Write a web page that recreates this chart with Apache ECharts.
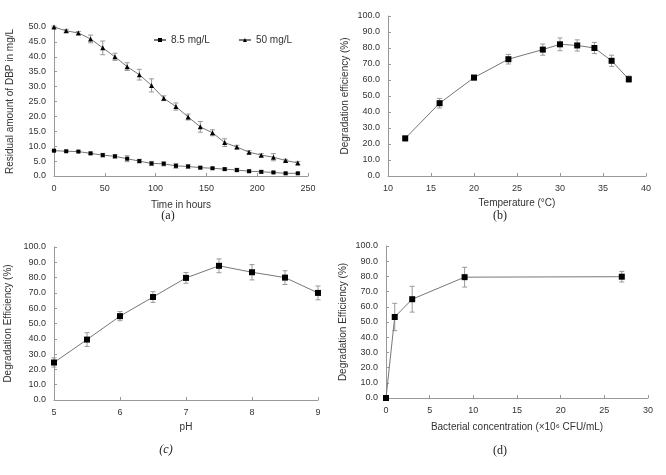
<!DOCTYPE html>
<html><head><meta charset="utf-8">
<script src="https://cdn.jsdelivr.net/npm/echarts@6/dist/echarts.min.js"></script>
<style>html,body{margin:0;padding:0;background:#fff}#c{width:666px;height:475px}</style>
</head><body><div id="c"></div>
<script>
// Panel (a): residual DBP over time
const timeHours = [0,12,24,36,48,60,72,84,96,108,120,132,144,156,168,180,192,204,216,228,240];
const dbp85 = [8.5,8.3,8.2,7.6,7.0,6.6,5.8,5.0,4.2,4.1,3.4,3.2,2.8,2.6,2.3,2.0,1.6,1.4,1.2,0.9,0.9];
const dbp85Err = [0.2,0.2,0.2,0.4,0.6,0.6,1.0,0.6,0.7,0.7,0.8,0.6,0.4,0.3,0.4,0.6,0.4,0.4,0.3,0.3,0.3];
const dbp50 = [50.0,48.7,48.0,46.0,43.0,40.0,36.7,34.0,30.4,26.1,23.3,19.8,16.5,14.5,11.2,9.7,8.0,7.0,6.3,5.2,4.4];
const dbp50Err = [0.3,0.5,0.5,1.3,2.3,1.2,1.3,1.8,2.2,0.8,1.2,1.0,1.8,1.0,1.3,0.6,0.5,0.5,1.2,0.4,0.5];
// Panel (b): temperature
const tempC = [12,16,20,24,28,30,32,34,36,38];
const tempEff = [23.5,45.5,61.5,73.0,79.0,82.3,81.6,80.0,72.0,60.5];
const tempErr = [1.5,3.0,1.5,3.0,3.5,4.0,3.5,3.5,3.5,2.0];
// Panel (c): pH
const phVals = [5,5.5,6,6.5,7,7.5,8,8.5,9];
const phEff = [24.5,39.5,54.8,67.3,79.8,87.7,83.5,80.0,70.0];
const phErr = [3.0,4.5,3.0,3.5,3.5,4.5,5.0,4.5,4.5];
// Panel (d): bacterial concentration
const bactConc = [0,1,3,9,27];
const bactEff = [0,53.3,65.0,79.5,79.8];
const bactErr = [0,9.0,8.5,6.5,3.5];

const FONT = 'Liberation Sans, Arial, sans-serif';
const AX = '#999';
const TXT = '#333';
const LINE = '#777';

function pairs(xs, ys){ return xs.map((x,i)=>[x, ys[i]]); }
function errData(xs, ys, es){ return xs.map((x,i)=>[x, ys[i]-es[i], ys[i]+es[i]]); }
function errRender(params, api){
  const x = api.value(0), lo = api.value(1), hi = api.value(2);
  if (hi - lo <= 0) return null;
  const p1 = api.coord([x, lo]), p2 = api.coord([x, hi]);
  const w = 2.5;
  const st = {stroke:'#999', lineWidth:1};
  return {type:'group', children:[
    {type:'line', shape:{x1:p1[0],y1:p1[1],x2:p2[0],y2:p2[1]}, style:st},
    {type:'line', shape:{x1:p1[0]-w,y1:p1[1],x2:p1[0]+w,y2:p1[1]}, style:st},
    {type:'line', shape:{x1:p2[0]-w,y1:p2[1],x2:p2[0]+w,y2:p2[1]}, style:st}
  ]};
}
function xAx(g, min, max, interval, name, gap){
  return {type:'value', gridIndex:g, min, max, interval, name, nameLocation:'middle', nameGap:gap,
    nameTextStyle:{fontFamily:FONT, fontSize:10, color:TXT},
    axisLine:{lineStyle:{color:AX}}, axisTick:{inside:true, length:3, lineStyle:{color:AX}},
    axisLabel:{fontFamily:FONT, fontSize:9, color:TXT, margin:8}, splitLine:{show:false}};
}
function yAx(g, min, max, interval, name, gap){
  return {type:'value', gridIndex:g, min, max, interval, name, nameLocation:'middle', nameGap:gap,
    nameTextStyle:{fontFamily:FONT, fontSize:10, color:TXT},
    axisLine:{show:true, lineStyle:{color:AX}}, axisTick:{show:true, inside:true, length:3, lineStyle:{color:AX}},
    axisLabel:{fontFamily:FONT, fontSize:9, color:TXT, margin:8, formatter:v=>v.toFixed(1)}, splitLine:{show:false}};
}
function lineS(name, g, data, symbol, size){
  return {name, type:'line', xAxisIndex:g, yAxisIndex:g, data, symbol, symbolSize:size,
    lineStyle:{color:LINE, width:1}, itemStyle:{color:'#000'}, z:3, animation:false};
}
function errS(g, data){
  return {type:'custom', xAxisIndex:g, yAxisIndex:g, data, renderItem:errRender, z:2, animation:false, silent:true};
}

const chart = echarts.init(document.getElementById('c'), null, {renderer:'canvas'});
chart.setOption({
  backgroundColor:'#fff',
  animation:false,
  grid:[
    {left:54, top:27, width:254, height:149},
    {left:388, top:16, width:258, height:160},
    {left:54, top:247, width:264, height:153},
    {left:386, top:246, width:262, height:152}
  ],
  legend:{data:['8.5 mg/L','50 mg/L'], left:148, top:30, itemWidth:12, itemHeight:5, itemGap:28,
    textStyle:{fontFamily:FONT, fontSize:10, color:TXT}},
  xAxis:[
    xAx(0, 0, 250, 50, 'Time in hours', 24),
    xAx(1, 10, 40, 5, 'Temperature (°C)', 22),
    xAx(2, 5, 9, 1, 'pH', 22),
    xAx(3, 0, 30, 5, 'Bacterial concentration (×10⁶ CFU/mL)', 24)
  ],
  yAxis:[
    yAx(0, 0, 50, 5, 'Residual amount of DBP in mg/L', 39),
    yAx(1, 0, 100, 10, 'Degradation efficiency (%)', 38),
    yAx(2, 0, 100, 10, 'Degradation Efficiency (%)', 41),
    yAx(3, 0, 100, 10, 'Degradation Efficiency (%)', 38)
  ],
  series:[
    errS(0, errData(timeHours, dbp85, dbp85Err)),
    errS(0, errData(timeHours, dbp50, dbp50Err)),
    lineS('8.5 mg/L', 0, pairs(timeHours, dbp85), 'rect', 4),
    lineS('50 mg/L', 0, pairs(timeHours, dbp50), 'triangle', 5),
    errS(1, errData(tempC, tempEff, tempErr)),
    lineS('temp', 1, pairs(tempC, tempEff), 'rect', 6),
    errS(2, errData(phVals, phEff, phErr)),
    lineS('ph', 2, pairs(phVals, phEff), 'rect', 6),
    errS(3, errData(bactConc, bactEff, bactErr)),
    lineS('bact', 3, pairs(bactConc, bactEff), 'rect', 6)
  ],
  graphic:[
    {type:'text', x:168, y:216, style:{text:'(a)', font:'12px "Liberation Serif", serif', fill:'#222', textAlign:'center', textVerticalAlign:'middle'}},
    {type:'text', x:500, y:216, style:{text:'(b)', font:'12px "Liberation Serif", serif', fill:'#222', textAlign:'center', textVerticalAlign:'middle'}},
    {type:'text', x:166, y:450, style:{text:'(c)', font:'italic 12px "Liberation Serif", serif', fill:'#222', textAlign:'center', textVerticalAlign:'middle'}},
    {type:'text', x:500, y:451, style:{text:'(d)', font:'12px "Liberation Serif", serif', fill:'#222', textAlign:'center', textVerticalAlign:'middle'}}
  ]
});
</script></body></html>
